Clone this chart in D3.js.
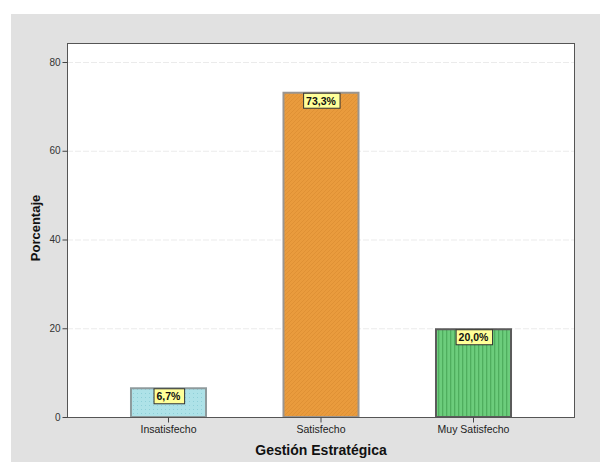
<!DOCTYPE html>
<html><head><meta charset="utf-8">
<script src="https://cdn.jsdelivr.net/npm/d3@7"></script>
<style>body{margin:0;background:#fff}svg{display:block}</style>
</head><body>
<svg id="c" width="600" height="462"></svg>
<script>
const categories = ["Insatisfecho", "Satisfecho", "Muy Satisfecho"];
const values = [6.7, 73.3, 20.0];
const labels = ["6,7%", "73,3%", "20,0%"];
const yTicks = [0, 20, 40, 60, 80];
const xTitle = "Gestión Estratégica";
const yTitle = "Porcentaje";

const svg = d3.select("#c");
const W = 600, H = 462;
const plot = {l: 67, t: 43, r: 575, b: 417};

svg.append("rect").attr("x", 11).attr("y", 14).attr("width", W - 11).attr("height", H - 14).attr("fill", "#e1e1e1");

const defs = svg.append("defs");
const p1 = defs.append("pattern").attr("id", "p1").attr("patternUnits", "userSpaceOnUse").attr("width", 4).attr("height", 4);
p1.append("rect").attr("width", 4).attr("height", 4).attr("fill", "#aee2e8");
p1.append("rect").attr("x", 1).attr("y", 1).attr("width", 1).attr("height", 1).attr("fill", "#8fcfd8");
const p2 = defs.append("pattern").attr("id", "p2").attr("patternUnits", "userSpaceOnUse").attr("width", 4).attr("height", 4);
p2.append("rect").attr("width", 4).attr("height", 4).attr("fill", "#e99b3d");
p2.append("path").attr("d", "M-1,1 L1,-1 M0,4 L4,0 M3,5 L5,3").attr("stroke", "#dc8e34").attr("stroke-width", 0.8);
const p3 = defs.append("pattern").attr("id", "p3").attr("patternUnits", "userSpaceOnUse").attr("width", 4).attr("height", 4);
p3.append("rect").attr("width", 4).attr("height", 4).attr("fill", "#6ccd7c");
p3.append("rect").attr("x", 2).attr("width", 1.3).attr("height", 4).attr("fill", "#4fae5e");
const fills = ["url(#p1)", "url(#p2)", "url(#p3)"];
const strokes = ["#8e9a9c", "#9a9590", "#5b5b5b"];

svg.append("rect").attr("x", plot.l).attr("y", plot.t).attr("width", plot.r - plot.l).attr("height", plot.b - plot.t).attr("fill", "#fff");

const y = d3.scaleLinear().domain([0, 80]).range([plot.b, 62]);
const x = d3.scaleBand().domain(categories).range([plot.l, plot.r]).paddingInner(0.495).paddingOuter(0.413);

svg.append("g").selectAll("line").data(yTicks.filter(d => d > 0)).join("line")
  .attr("x1", plot.l).attr("x2", plot.r).attr("y1", d => y(d) + 0.5).attr("y2", d => y(d) + 0.5)
  .attr("stroke", "#ebebeb").attr("stroke-dasharray", "6,2");

svg.append("g").selectAll("rect").data(values).join("rect")
  .attr("x", (d, i) => x(categories[i]) + 1)
  .attr("y", d => y(d) + 1)
  .attr("width", x.bandwidth() - 2)
  .attr("height", d => y(0) - y(d) - 1)
  .attr("fill", (d, i) => fills[i])
  .attr("stroke", (d, i) => strokes[i]).attr("stroke-width", 2);

svg.append("rect").attr("x", plot.l + 0.5).attr("y", plot.t + 0.5).attr("width", plot.r - plot.l - 1).attr("height", plot.b - plot.t)
  .attr("fill", "none").attr("stroke", "#555").attr("stroke-width", 1);

const font = "Arial, 'Liberation Sans', sans-serif";
const ya = svg.append("g").attr("transform", `translate(${plot.l + 0.5},0)`)
  .call(d3.axisLeft(y).tickValues(yTicks).tickSize(5).tickSizeOuter(0));
ya.select(".domain").remove();
ya.selectAll("line").attr("stroke", "#444");
ya.selectAll("text").attr("font-family", font).attr("font-size", 10).attr("fill", "#333").attr("dx", 1);

const xa = svg.append("g").attr("transform", `translate(0,${plot.b + 0.5})`)
  .call(d3.axisBottom(x).tickSize(5).tickSizeOuter(0));
xa.select(".domain").remove();
xa.selectAll("line").attr("stroke", "#444");
xa.selectAll("text").attr("font-family", font).attr("font-size", 10.5).attr("fill", "#222").attr("dy", "0.71em");

const lg = svg.append("g").selectAll("g").data(values).join("g")
  .attr("transform", (d, i) => `translate(${x(categories[i]) + x.bandwidth() / 2},${y(d) + 1})`);
lg.append("text").text((d, i) => labels[i])
  .attr("text-anchor", "middle").attr("y", 12)
  .attr("font-family", font).attr("font-size", 10.5).attr("font-weight", "bold").attr("fill", "#111");
lg.each(function() {
  const g = d3.select(this), t = g.select("text"), b = t.node().getBBox();
  g.insert("rect", "text").attr("x", b.x - 3 + 0.5).attr("y", 0.5).attr("width", b.width + 6).attr("height", 15)
    .attr("fill", "#ffff99").attr("stroke", "#333").attr("stroke-width", 1);
});

svg.append("text").text(xTitle).attr("x", 321).attr("y", 455).attr("text-anchor", "middle")
  .attr("font-family", font).attr("font-size", 14).attr("font-weight", "bold").attr("fill", "#111");
svg.append("text").text(yTitle).attr("transform", "translate(40,228) rotate(-90)").attr("text-anchor", "middle")
  .attr("font-family", font).attr("font-size", 13).attr("font-weight", "bold").attr("fill", "#111");
</script>
</body></html>
